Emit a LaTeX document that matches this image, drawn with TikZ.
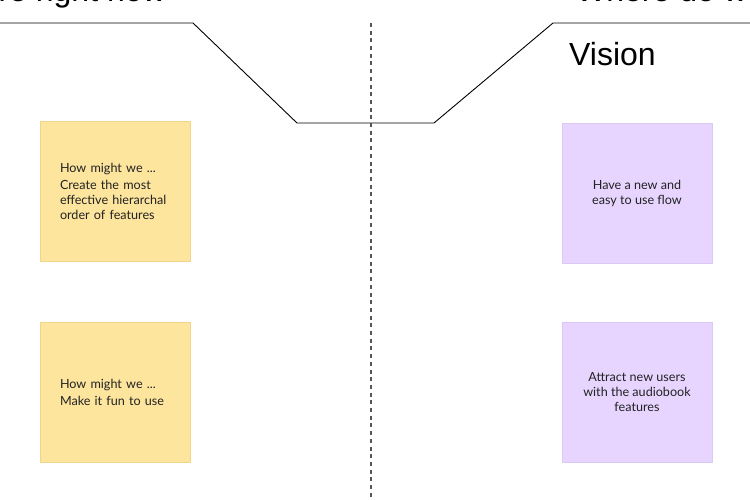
\documentclass[tikz,border=0pt]{standalone}
\usepackage{fontspec}
\setmainfont{Lato}
\newfontfamily\titlefont{Liberation Sans}
\definecolor{noteyellow}{RGB}{253,229,158}
\definecolor{noteyellowline}{RGB}{240,214,140}
\definecolor{notepurple}{RGB}{231,213,255}
\definecolor{notepurpleline}{RGB}{220,200,245}
\definecolor{inkgray}{RGB}{85,85,85}
\definecolor{notetext}{RGB}{34,34,34}
\tikzset{
  sticky/.style={rectangle, minimum width=150pt, minimum height=140pt, inner sep=0pt,
    line width=0.6pt, text=notetext, font=\fontsize{12.6}{15}\selectfont},
  yellownote/.style={sticky, fill=noteyellow, draw=noteyellowline, align=left, text width=110pt},
  purplenote/.style={sticky, fill=notepurple, draw=notepurpleline, align=center},
  heading/.style={font=\titlefont\fontsize{32}{36}\selectfont, inner sep=0pt}
}
\begin{document}
\begin{tikzpicture}[x=1pt, y=-1pt, line join=round, line cap=round]
\def\W{750} \def\H{500} \def\mid{371}
\useasboundingbox (0,0) rectangle (\W,\H);
\fill[white] (0,0) rectangle (\W,\H);
\clip (0,0) rectangle (\W,\H);
% Titel
\node[heading, anchor=base east] (now) at (166,1.5) {Where we are right now};
\node[heading, anchor=base west] (want) at (576,1.5) {Where do we want to be};
\node[heading, anchor=base west] (vision) at (569,66) {Vision};
% Rahmenlinie
\draw[line width=0.9pt] (0,23) -- (193,23) -- (297,123) -- (434,123) -- (553,23) -- (\W,23);
\draw[inkgray, line width=1.3pt, dash pattern=on 4pt off 3.7pt, line cap=butt] (\mid,23) -- (\mid,\H);
% Notizen
\node[yellownote] (hmw1) at (115,191.5) {How might we ...\\[2pt]Create the most\\effective hierarchal\\order of features};
\node[yellownote] (hmw2) at (115,392) {How might we ...\\[2pt]Make it fun to use};
\node[purplenote] (flow) at (637,193.5) {Have a new and\\easy to use flow};
\node[purplenote] (users) at (637,392) {Attract new users\\with the audiobook\\features};
\end{tikzpicture}
\end{document}
